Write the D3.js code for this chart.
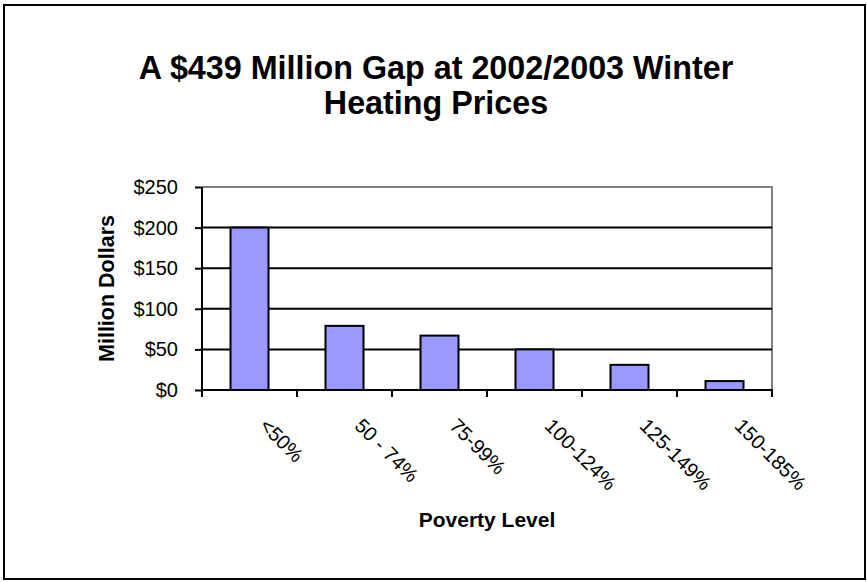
<!DOCTYPE html>
<html>
<head>
<meta charset="utf-8">
<script src="https://cdn.jsdelivr.net/npm/d3@7"></script>
<style>
  html, body { margin: 0; padding: 0; background: #fff; }
  svg { display: block; }
  text { font-family: "Liberation Sans", Arial, sans-serif; fill: #000; }
</style>
</head>
<body>
<script>
const categories = ["<50%", "50 - 74%", "75-99%", "100-124%", "125-149%", "150-185%"];
const values = [200, 79, 67, 50, 31, 11];
const yTicks = [0, 50, 100, 150, 200, 250];
const titleLines = ["A $439 Million Gap at 2002/2003 Winter", "Heating Prices"];
const xTitle = "Poverty Level";
const yTitle = "Million Dollars";

const W = 867, H = 582;
const plot = { left: 202, right: 772, top: 187, bottom: 390 };

const svg = d3.select("body").append("svg").attr("width", W).attr("height", H);

// outer border
svg.append("rect").attr("x", 4).attr("y", 5).attr("width", 861).attr("height", 574)
  .attr("fill", "#fff").attr("stroke", "#000").attr("stroke-width", 2);

// title (slightly condensed, taller glyphs)
const tx = 436, sx = 0.95;
svg.append("g").attr("transform", `translate(${tx},0) scale(${sx},1)`)
  .append("text").attr("text-anchor", "middle")
  .attr("font-size", 34).attr("font-weight", "bold")
  .selectAll("tspan").data(titleLines).join("tspan")
  .attr("x", 0).attr("y", (d, i) => 79 + i * 35).text(d => d);

const y = d3.scaleLinear().domain([0, 250]).range([plot.bottom, plot.top]);
const xCat = d3.scaleBand().domain(categories).range([plot.left, plot.right]).padding(0);
const xBar = d3.scaleBand().domain(categories).range([plot.left, plot.right])
  .paddingInner(0.6).paddingOuter(0.3);

// plot area border (gray top/right)
svg.append("path")
  .attr("d", `M${plot.left},${plot.top}H${plot.right}V${plot.bottom}`)
  .attr("fill", "none").attr("stroke", "#808080").attr("stroke-width", 2);

// gridlines
svg.append("g").selectAll("line").data(yTicks.filter(v => v > 0 && v < 250)).join("line")
  .attr("x1", plot.left).attr("x2", plot.right)
  .attr("y1", d => y(d)).attr("y2", d => y(d))
  .attr("stroke", "#000").attr("stroke-width", 2);

// bars
svg.append("g").selectAll("rect").data(values).join("rect")
  .attr("x", (d, i) => xBar(categories[i]))
  .attr("width", xBar.bandwidth())
  .attr("y", d => y(d))
  .attr("height", d => y(0) - y(d))
  .attr("fill", "#9999FF").attr("stroke", "#000").attr("stroke-width", 2);

// y axis
const yAxis = d3.axisLeft(y).tickValues(yTicks).tickFormat(d => "$" + d).tickSize(7).tickPadding(17);
const gy = svg.append("g").attr("transform", `translate(${plot.left},0)`).call(yAxis);
gy.select(".domain").attr("stroke", "#000").attr("stroke-width", 2)
  .attr("d", `M0,${plot.top}V${plot.bottom + 1}`);
gy.selectAll(".tick line").attr("stroke", "#000").attr("stroke-width", 2);
gy.selectAll(".tick text").attr("font-size", 20).attr("font-family", "Liberation Sans, Arial, sans-serif");

// x axis: ticks at category boundaries
const boundaries = categories.map(c => xCat(c)).concat([plot.right]);
const gx = svg.append("g");
gx.append("line").attr("x1", plot.left - 1).attr("x2", plot.right + 1)
  .attr("y1", plot.bottom).attr("y2", plot.bottom)
  .attr("stroke", "#000").attr("stroke-width", 2);
gx.selectAll("line.tk").data(boundaries).join("line").attr("class", "tk")
  .attr("x1", d => d).attr("x2", d => d)
  .attr("y1", plot.bottom).attr("y2", plot.bottom + 7)
  .attr("stroke", "#000").attr("stroke-width", 2);
gx.selectAll("text").data(categories).join("text")
  .attr("transform", d => `translate(${xCat(d) + xCat.bandwidth() / 2 + 9},${plot.bottom + 37}) rotate(45)`)
  .attr("text-anchor", "start").attr("font-size", 20)
  .text(d => d);

// axis titles
svg.append("text").attr("x", (plot.left + plot.right) / 2).attr("y", 527)
  .attr("text-anchor", "middle").attr("font-size", 21).attr("font-weight", "bold").text(xTitle);
svg.append("text").attr("transform", `translate(114,${(plot.top + plot.bottom) / 2}) rotate(-90)`)
  .attr("text-anchor", "middle").attr("font-size", 21.5).attr("font-weight", "bold").text(yTitle);
</script>
</body>
</html>
